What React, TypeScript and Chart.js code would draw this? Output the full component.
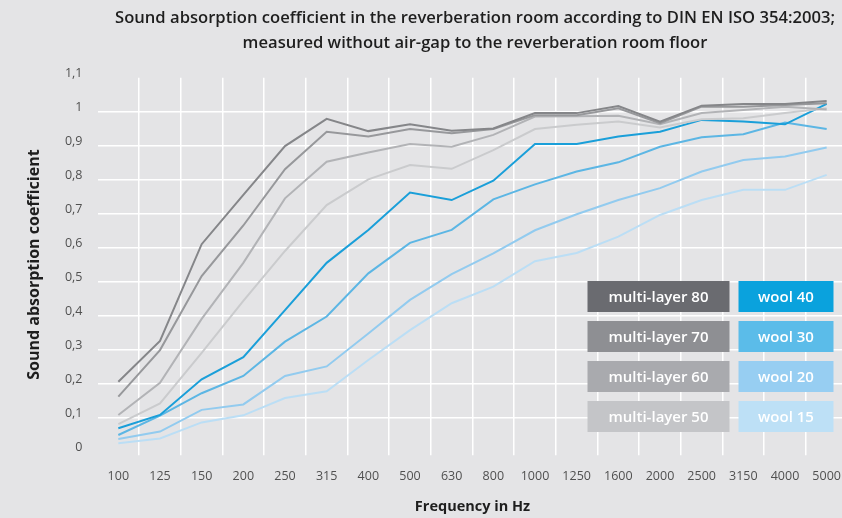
import React, { useEffect, useRef } from 'react';
import { Chart, registerables } from 'chart.js';

Chart.register(...registerables);

const frequencies = ['100', '125', '150', '200', '250', '315', '400', '500', '630', '800', '1000', '1250', '1600', '2000', '2500', '3150', '4000', '5000'];

const multiLayer80 = [0.205, 0.325, 0.61, 0.755, 0.899, 0.979, 0.943, 0.963, 0.944, 0.951, 0.996, 0.996, 1.017, 0.971, 1.018, 1.023, 1.023, 1.032];
const multiLayer70 = [0.161, 0.298, 0.516, 0.665, 0.831, 0.941, 0.927, 0.949, 0.937, 0.949, 0.99, 0.99, 1.01, 0.966, 1.015, 1.015, 1.02, 1.025];
const multiLayer60 = [0.107, 0.202, 0.39, 0.555, 0.745, 0.853, 0.88, 0.905, 0.897, 0.932, 0.986, 0.987, 0.988, 0.963, 0.996, 1.005, 1.015, 1.007];
const multiLayer50 = [0.08, 0.141, 0.29, 0.443, 0.59, 0.725, 0.801, 0.843, 0.832, 0.887, 0.949, 0.962, 0.971, 0.954, 0.978, 0.981, 0.996, 1.01];
const wool40 = [0.068, 0.107, 0.212, 0.277, 0.416, 0.555, 0.652, 0.762, 0.74, 0.797, 0.905, 0.905, 0.927, 0.941, 0.976, 0.971, 0.963, 1.023];
const wool30 = [0.048, 0.105, 0.171, 0.222, 0.323, 0.397, 0.524, 0.614, 0.652, 0.742, 0.786, 0.824, 0.851, 0.897, 0.925, 0.934, 0.968, 0.949];
const wool20 = [0.036, 0.058, 0.122, 0.138, 0.222, 0.25, 0.347, 0.446, 0.522, 0.583, 0.651, 0.698, 0.74, 0.775, 0.824, 0.858, 0.868, 0.895];
const wool15 = [0.024, 0.038, 0.085, 0.106, 0.157, 0.177, 0.269, 0.357, 0.436, 0.485, 0.56, 0.584, 0.632, 0.696, 0.74, 0.77, 0.77, 0.814];

const seriesNames = ['multi-layer 80', 'multi-layer 70', 'multi-layer 60', 'multi-layer 50', 'wool 40', 'wool 30', 'wool 20', 'wool 15'];
const seriesValues = [multiLayer80, multiLayer70, multiLayer60, multiLayer50, wool40, wool30, wool20, wool15];
const lineColors = ['#858689', '#97989b', '#b2b3b6', '#cacbcd', '#1a9fd9', '#5cb6e4', '#92cbef', '#bbdef5'];
const boxColors = ['#6a6b70', '#8e8f93', '#a9aaae', '#c4c5c8', '#0aa2dd', '#5bbce9', '#97cef2', '#bde0f6'];

const yMin = 0;
const yMax = 1.1;
const yStep = 0.1;

const titleLines = [
  'Sound absorption coefficient in the reverberation room according to DIN EN ISO 354:2003;',
  'measured without air-gap to the reverberation room floor',
];
const xTitle = 'Frequency in Hz';
const yTitle = 'Sound absorption coefficient';

const FONT = "'Open Sans', sans-serif";
const BG = '#e4e4e6';

const boxLegendPlugin = {
  id: 'boxLegend',
  afterDatasetsDraw(chart: any) {
    const ctx = chart.ctx;
    const colX = [587.5, 738.5];
    const colW = [142, 95];
    const rowY0 = 281;
    const rowPitch = 40;
    const rowH = 31;
    ctx.save();
    ctx.font = `600 15px ${FONT}`;
    ctx.textAlign = 'center';
    ctx.textBaseline = 'middle';
    seriesNames.forEach((name, i) => {
      const col = i < 4 ? 0 : 1;
      const row = i % 4;
      const x = colX[col];
      const y = rowY0 + row * rowPitch;
      ctx.fillStyle = boxColors[i];
      ctx.fillRect(x, y, colW[col], rowH);
      ctx.fillStyle = '#ffffff';
      ctx.fillText(name, x + colW[col] / 2, y + rowH / 2 + 1);
    });
    ctx.restore();
  },
};

export default function App() {
  const ref = useRef<HTMLCanvasElement | null>(null);

  useEffect(() => {
    if (!ref.current) return;
    const chart = new Chart(ref.current, {
      type: 'line',
      data: {
        labels: frequencies,
        datasets: seriesNames.map((name, i) => ({
          label: name,
          data: seriesValues[i],
          borderColor: lineColors[i],
          backgroundColor: lineColors[i],
          borderWidth: 2,
          pointRadius: 0,
          tension: 0,
          fill: false,
          yAxisID: 'y',
        })),
      },
      options: {
        responsive: false,
        animation: false,
        layout: { padding: 0 },
        plugins: {
          legend: { display: false },
          tooltip: { enabled: false },
          title: {
            display: true,
            text: titleLines,
            color: '#1e1e1e',
            font: { family: FONT, size: 16.6, weight: '600', lineHeight: 25 / 16.6 },
            padding: { top: 5.5, bottom: 22.3 },
          },
        },
        scales: {
          x: {
            type: 'category',
            offset: true,
            border: { display: false },
            grid: {
              offset: true,
              color: (c: any) => (c.index === 0 ? 'rgba(0,0,0,0)' : '#ffffff'),
              lineWidth: 1.5,
              drawTicks: true,
              tickLength: 4,
            },
            ticks: {
              color: '#505050',
              font: { family: FONT, size: 12.5 },
              padding: 14,
              autoSkip: false,
              maxRotation: 0,
            },
            title: {
              display: true,
              text: xTitle,
              color: '#1e1e1e',
              font: { family: FONT, size: 14.5, weight: 'bold' },
              padding: { top: 0, bottom: 2 },
            },
            afterFit: (s: any) => {
              s.height = 66.7;
            },
          },
          y: {
            type: 'linear',
            position: 'left',
            min: yMin,
            max: yMax,
            border: { display: false },
            grid: {
              color: (c: any) => {
                const v = c.tick ? c.tick.value : 0;
                return v < 0.05 || v > 1.05 ? 'rgba(0,0,0,0)' : '#ffffff';
              },
              lineWidth: 1.5,
              drawTicks: false,
            },
            ticks: {
              stepSize: yStep,
              color: '#505050',
              font: { family: FONT, size: 12.5 },
              padding: 15,
              labelOffset: -4,
              callback: (v: any) => String(Math.round(Number(v) * 10) / 10).replace('.', ','),
            },
            title: {
              display: true,
              text: yTitle,
              color: '#1e1e1e',
              font: { family: FONT, size: 16, weight: 'bold' },
              padding: { top: 25, bottom: 0 },
            },
            afterFit: (s: any) => {
              s.width = 97.5;
            },
          },
          yRight: {
            type: 'linear',
            position: 'right',
            display: true,
            border: { display: false },
            grid: { display: false, drawTicks: false },
            ticks: { display: false },
            afterFit: (s: any) => {
              s.width = 102.5;
            },
          },
        },
      },
      plugins: [boxLegendPlugin],
    } as any);
    return () => chart.destroy();
  }, []);

  return (
    <div
      style={{
        position: 'fixed',
        left: 0,
        top: 0,
        width: 842,
        height: 518,
        overflow: 'hidden',
        background: BG,
      }}
    >
      <canvas ref={ref} width={950} height={518} style={{ display: 'block' }} />
    </div>
  );
}
